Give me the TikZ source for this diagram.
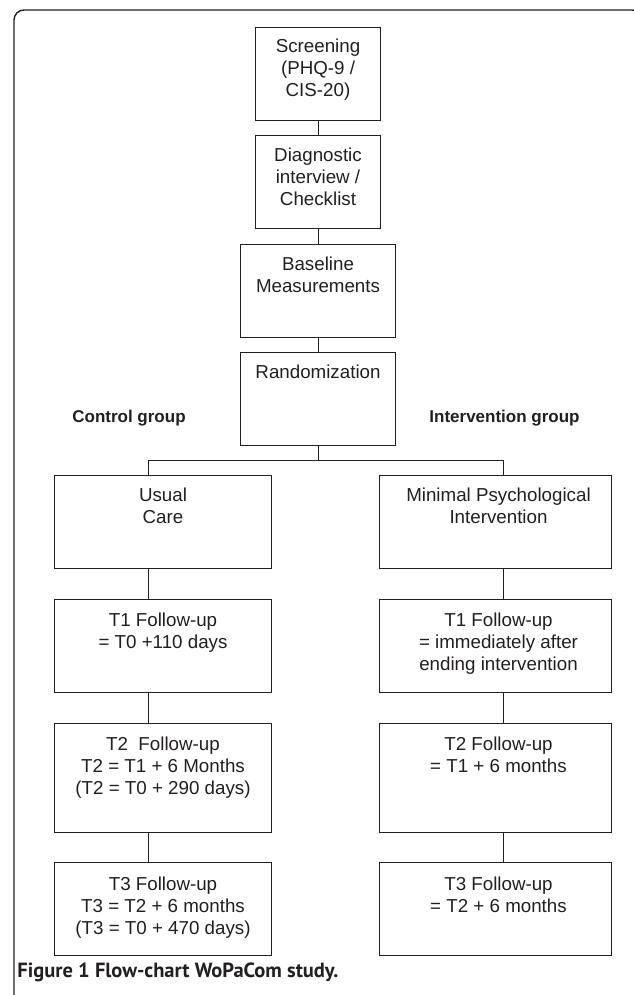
\documentclass[tikz,border=0pt]{standalone}
\usepackage{fontspec}
\setmainfont{Liberation Sans}
\newfontfamily\capfont{PT Sans}
\usetikzlibrary{positioning}
\definecolor{ink}{HTML}{231F20}

\begin{document}
\begin{tikzpicture}[x=1pt, y=-1pt, ink, line width=0.9pt,
		box/.style={draw, inner sep=0pt, minimum height=93pt},
		midbox/.style={box, minimum width=155pt},
		lbox/.style={box, minimum width=217pt},
		rbox/.style={box, minimum width=232pt},
		txt/.style={align=center, inner sep=0pt, font=\fontsize{18.75}{22}\selectfont},
		grp/.style={inner sep=0pt, anchor=base, font=\fontsize{17}{20}\selectfont\bfseries}]
		\useasboundingbox (0,0) rectangle (633,995);
		\draw[line width=1.4pt, rounded corners=10pt] (14,1000) -- (14,10) -- (642,10) -- (642,1000);
		\coordinate (lcol) at (148,0);
		\coordinate (rcol) at (503,0);
		% middle column
		\node[box, minimum width=125pt] (scr) at (318,73.5) {};
		\node[box, minimum width=125pt] (diag) at (318,181.5) {};
		\node[midbox] (base) at (318,290.5) {};
		\node[midbox] (rand) at (318,398.5) {};
		\node[txt, below=12pt of scr.north] (scrt) {Screening\\(PHQ-9 /\\CIS-20)};
		\node[txt, below=13pt of diag.north] (diagt) {Diagnostic\\interview /\\Checklist};
		\node[txt, below=13pt of base.north] (baset) {Baseline\\Measurements};
		\node[txt, below=13pt of rand.north] (randt) {Randomization};
		\node[grp] (ctrl) at (129,422) {Control group};
		\node[grp] (intv) at (504.5,422) {Intervention group};
		% control group
		\node[lbox] (usual) at (163,522) {};
		\node[lbox] (t1c) at (163,645.5) {};
		\node[lbox, minimum height=109pt] (t2c) at (163,777.5) {};
		\node[lbox] (t3c) at (163,909) {};
		\node[txt, below=12pt of usual.north] (usualt) {Usual\\Care};
		\node[txt, below=14pt of t1c.north] (t1ct) {T1 Follow-up\\= T0 +110 days};
		\node[txt, below=14pt of t2c.north] (t2ct) {T2~ Follow-up\\T2 = T1 + 6 Months\\(T2 = T0 + 290 days)};
		\node[txt, below=14pt of t3c.north] (t3ct) {T3 Follow-up\\T3 = T2 + 6 months\\(T3 = T0 + 470 days)};
		% intervention group
		\node[rbox] (mpi) at (495.5,522) {};
		\node[rbox] (t1i) at (495.5,645.5) {};
		\node[rbox, minimum height=109pt] (t2i) at (495.5,777.5) {};
		\node[rbox] (t3i) at (495.5,909) {};
		\node[txt, below=12pt of mpi.north, xshift=3pt] (mpit) {Minimal Psychological\\Intervention};
		\node[txt, below=14pt of t1i.north, xshift=3pt] (t1it) {T1 Follow-up\\= immediately after\\ending intervention};
		\node[txt, below=14pt of t2i.north, xshift=3pt] (t2it) {T2 Follow-up\\= T1 + 6 months};
		\node[txt, below=14pt of t3i.north, xshift=3pt] (t3it) {T3 Follow-up\\= T2 + 6 months};
		% connectors
		\draw (scr) -- (diag);
		\draw (diag) -- (base);
		\draw (base) -- (rand);
		\draw (rand.south) -- ++(0,15) coordinate (split);
		\draw (usual.north -| lcol) |- (split) -| (mpi.north -| rcol);
		\foreach \a/\b in {usual/t1c, t1c/t2c, t2c/t3c}
			\draw (\a.south -| lcol) -- (\b.north -| lcol);
		\foreach \a/\b in {mpi/t1i, t1i/t2i, t2i/t3i}
			\draw (\a.south -| rcol) -- (\b.north -| rcol);
		\node[anchor=base west, inner sep=0pt, font=\capfont\bfseries\fontsize{20.5}{24}\selectfont] (cap) at (17,977) {Figure 1 Flow-chart WoPaCom study.};
	\end{tikzpicture}
\end{document}
